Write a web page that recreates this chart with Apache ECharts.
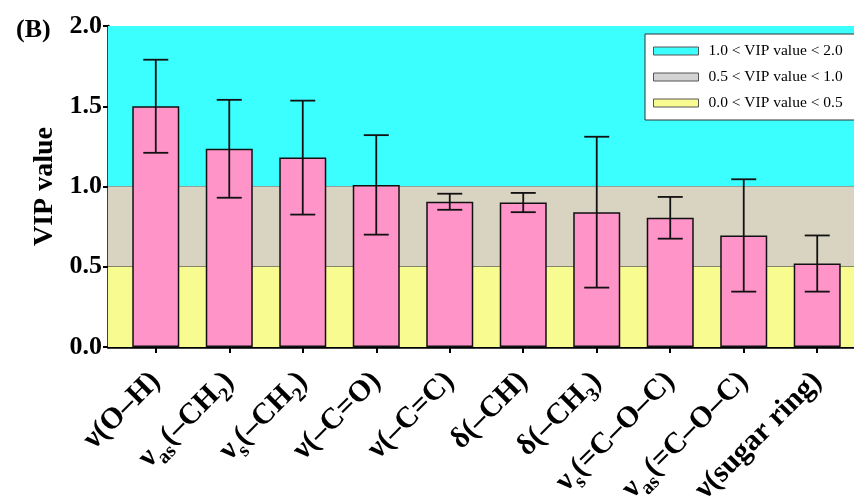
<!DOCTYPE html>
<html>
<head>
<meta charset="utf-8">
<script src="https://cdn.jsdelivr.net/npm/echarts@6/dist/echarts.min.js"></script>
<style>
  html, body { margin: 0; padding: 0; background: #fff; }
  #chart { width: 854px; height: 500px; }
</style>
</head>
<body>
<div id="chart"></div>
<script>
// Vibrational modes (rich-text markup for subscripts)
const categories = [
  'ν(O–H)',
  'ν{sub|as}(–CH{sub|2})',
  'ν{sub|s}(–CH{sub|2})',
  'ν(–C=O)',
  'ν(–C=C)',
  'δ(–CH)',
  'δ(–CH{sub|3})',
  'ν{sub|s}(=C–O–C)',
  'ν{sub|as}(=C–O–C)',
  'ν(sugar ring)'
];
// Mean VIP values and their error (± half range)
const vipValues = [1.50, 1.235, 1.18, 1.01, 0.905, 0.90, 0.84, 0.805, 0.695, 0.52];
const vipErrors = [0.29, 0.305, 0.355, 0.31, 0.05, 0.06, 0.47, 0.13, 0.35, 0.175];
// Threshold bands of the VIP scale
const bandNames = ['1.0 < VIP value < 2.0', '0.5 < VIP value < 1.0', '0.0 < VIP value < 0.5'];
const bandRanges = [[1.0, 2.0], [0.5, 1.0], [0.0, 0.5]];
const yTicks = [0, 0.5, 1.0, 1.5, 2.0];

const SERIF = 'Liberation Serif';
const bandFill = ['#3BFFFF', '#D9D3C1', '#F8FB90'];
const bandSwatch = ['#3BFFFF', '#D3D3D3', '#F8FB90'];
const xMin = -0.65, xMax = 9.65;
const idx = categories.map((_, i) => i);

const chart = echarts.init(document.getElementById('chart'));

const bandSeries = bandNames.map((name, k) => ({
  type: 'custom',
  name: name,
  silent: true,
  z: 1,
  itemStyle: { color: bandSwatch[k] },
  data: [bandRanges[k]],
  encode: { x: -1, y: [0, 1] },
  renderItem: function (params, api) {
    const lo = api.value(0), hi = api.value(1);
    const cs = params.coordSys;
    const yTop = api.coord([0, hi])[1];
    const yBot = api.coord([0, lo])[1];
    const children = [{
      type: 'rect',
      shape: { x: cs.x, y: yTop, width: cs.width, height: yBot - yTop },
      style: { fill: bandFill[k] }
    }];
    if (lo > 0) {
      children.push({
        type: 'line',
        shape: { x1: cs.x, y1: yBot, x2: cs.x + cs.width, y2: yBot },
        style: { stroke: lo >= 1 ? '#4d6e6e' : '#333', lineWidth: 1 }
      });
    }
    return { type: 'group', children: children };
  }
}));

chart.setOption({
  animation: false,
  title: {
    text: '(B)',
    left: 11,
    top: 12,
    textStyle: { fontFamily: SERIF, fontWeight: 'bold', fontSize: 26, color: '#000' }
  },
  legend: {
    data: bandNames,
    orient: 'vertical',
    left: 645,
    top: 34,
    padding: [9, 30, 9, 8],
    itemGap: 10,
    itemWidth: 45,
    itemHeight: 8,
    icon: 'rect',
    backgroundColor: '#fff',
    borderColor: '#333',
    borderWidth: 1,
    selectedMode: false,
    itemStyle: { borderColor: '#555', borderWidth: 1 },
    textStyle: { fontFamily: SERIF, fontSize: 15.5, color: '#000', padding: [0, 0, 0, 5] }
  },
  grid: { left: 108, right: -11, top: 26, bottom: 153, containLabel: false, outerBoundsMode: 'none' },
  xAxis: {
    type: 'value',
    min: xMin,
    max: xMax,
    splitLine: { show: false },
    axisLine: { show: true, onZero: false, lineStyle: { color: '#000', width: 2.5 } },
    axisTick: { show: true, customValues: idx, length: 6, lineStyle: { color: '#000', width: 2 } },
    axisLabel: {
      customValues: idx,
      rotate: 45,
      margin: 30,
      fontFamily: SERIF,
      fontWeight: 'bold',
      fontSize: 30,
      lineHeight: 42,
      color: '#000',
      formatter: v => categories[Math.round(v)],
      rich: {
        sub: { fontFamily: SERIF, fontWeight: 'bold', fontSize: 20, lineHeight: 20, color: '#000', verticalAlign: 'bottom' }
      }
    }
  },
  yAxis: {
    type: 'value',
    min: yTicks[0],
    max: yTicks[yTicks.length - 1],
    interval: 0.5,
    name: 'VIP value',
    nameLocation: 'middle',
    nameGap: 48,
    nameTextStyle: { fontFamily: SERIF, fontWeight: 'bold', fontSize: 28, color: '#000' },
    splitLine: { show: false },
    axisLine: { show: true, onZero: false, lineStyle: { color: '#000', width: 2.5 } },
    axisTick: { show: true, length: 5, lineStyle: { color: '#000', width: 2 } },
    axisLabel: {
      margin: 6,
      fontFamily: SERIF,
      fontWeight: 'bold',
      fontSize: 26,
      color: '#000',
      formatter: v => v.toFixed(1)
    }
  },
  series: bandSeries.concat([
    {
      type: 'bar',
      name: 'VIP',
      z: 3,
      barWidth: 47,
      data: vipValues.map((v, i) => [i, v]),
      itemStyle: { color: '#FF94C8', borderColor: '#111', borderWidth: 1.5 }
    },
    {
      type: 'custom',
      name: 'error',
      z: 4,
      data: vipValues.map((v, i) => [i, v, vipErrors[i]]),
      encode: { x: 0, y: 1 },
      renderItem: function (params, api) {
        const x = api.value(0), v = api.value(1), e = api.value(2);
        const top = api.coord([x, v + e]);
        const bot = api.coord([x, v - e]);
        const half = 12.5;
        const st = { stroke: '#111', lineWidth: 1.8 };
        return {
          type: 'group',
          children: [
            { type: 'line', shape: { x1: top[0], y1: top[1], x2: bot[0], y2: bot[1] }, style: st },
            { type: 'line', shape: { x1: top[0] - half, y1: top[1], x2: top[0] + half, y2: top[1] }, style: st },
            { type: 'line', shape: { x1: bot[0] - half, y1: bot[1], x2: bot[0] + half, y2: bot[1] }, style: st }
          ]
        };
      }
    }
  ])
});
</script>
</body>
</html>
